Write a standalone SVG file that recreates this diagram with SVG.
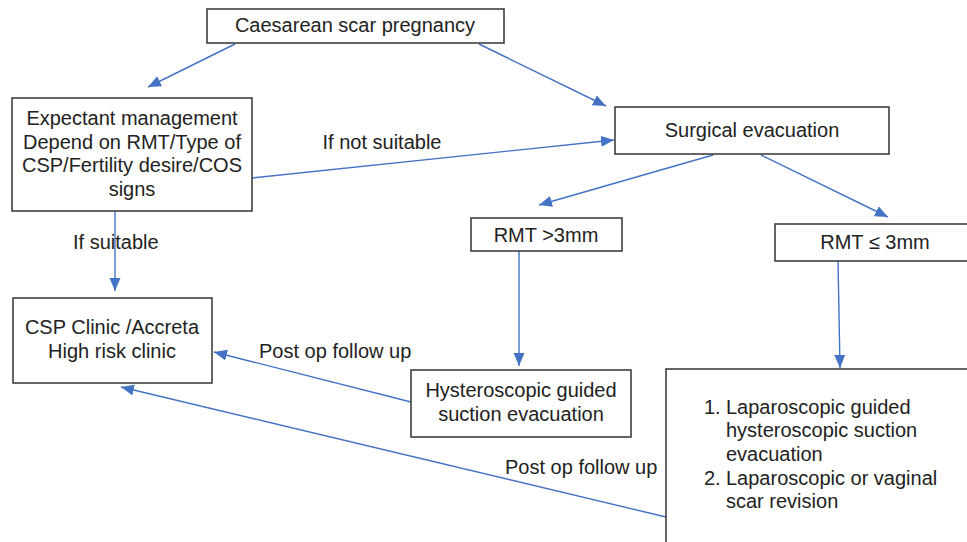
<svg xmlns="http://www.w3.org/2000/svg" width="967" height="542" viewBox="0 0 967 542">
<style>
.box{fill:#fff;stroke:#333;stroke-width:1.5}
.t{font-family:"Liberation Sans",Arial,sans-serif;font-size:20px;fill:#222}
.m{text-anchor:middle}
.c{stroke:#4472C4;stroke-width:1.4;fill:none;marker-end:url(#ah)}
.cn{stroke:#4472C4;stroke-width:1.4;fill:none}
</style>
<defs>
<marker id="ah" markerUnits="userSpaceOnUse" markerWidth="14" markerHeight="12" refX="13" refY="5.5" orient="auto">
<path d="M0,0 L13,5.5 L0,11 Z" fill="#4472C4"/>
</marker>
</defs>
<rect width="967" height="542" fill="#fff"/>
<g id="connectors">
<line class="c" x1="235" y1="44" x2="148" y2="87"/>
<line class="c" x1="479" y1="44" x2="606" y2="106"/>
<line class="c" x1="252" y1="178" x2="614" y2="140"/>
<line class="c" x1="713" y1="155" x2="539" y2="205"/>
<line class="c" x1="761" y1="155" x2="888" y2="217"/>
<line class="c" x1="115" y1="211" x2="115" y2="291"/>
<line class="c" x1="519" y1="251" x2="519" y2="366"/>
<line class="c" x1="838" y1="261" x2="840" y2="368"/>
<line class="c" x1="411" y1="402" x2="214" y2="352"/>
<line class="c" x1="666" y1="517" x2="121" y2="387"/>
</g>
<g id="labels">
<text class="t m" x="382" y="149">If not suitable</text>
<text class="t" x="73" y="249">If suitable</text>
<text class="t" x="259" y="358">Post op follow up</text>
<text class="t" x="505" y="474">Post op follow up</text>
</g>
<g id="csp">
<rect class="box" x="207" y="9" width="297" height="34"/>
<text class="t m" x="355" y="32">Caesarean scar pregnancy</text>
</g>
<g id="expectant">
<rect class="box" x="12" y="98" width="240" height="113"/>
<text class="t m" x="132" y="125">Expectant management</text>
<text class="t m" x="132" y="149">Depend on RMT/Type of</text>
<text class="t m" x="132" y="172">CSP/Fertility desire/COS</text>
<text class="t m" x="132" y="196">signs</text>
</g>
<g id="surgical">
<rect class="box" x="615" y="107" width="274" height="47"/>
<text class="t m" x="752" y="137">Surgical evacuation</text>
</g>
<g id="rmtgt">
<rect class="box" x="471" y="218" width="151" height="33"/>
<text class="t m" x="546" y="242">RMT &gt;3mm</text>
</g>
<g id="rmtle">
<rect class="box" x="775" y="224" width="200" height="37"/>
<text class="t m" x="875" y="249">RMT ≤ 3mm</text>
</g>
<g id="clinic">
<rect class="box" x="13" y="298" width="199" height="85"/>
<text class="t m" x="112" y="334">CSP Clinic /Accreta</text>
<text class="t m" x="112" y="358">High risk clinic</text>
</g>
<g id="hysteroscopic">
<rect class="box" x="411" y="370" width="220" height="67"/>
<text class="t m" x="521" y="397">Hysteroscopic guided</text>
<text class="t m" x="521" y="421">suction evacuation</text>
</g>
<g id="laparoscopic">
<rect class="box" x="666" y="369" width="320" height="200"/>
<text class="t" x="704" y="414">1.</text>
<text class="t" x="726" y="414">Laparoscopic guided</text>
<text class="t" x="726" y="437">hysteroscopic suction</text>
<text class="t" x="726" y="461">evacuation</text>
<text class="t" x="704" y="485">2.</text>
<text class="t" x="726" y="485">Laparoscopic or vaginal</text>
<text class="t" x="726" y="508">scar revision</text>
</g>
</svg>
